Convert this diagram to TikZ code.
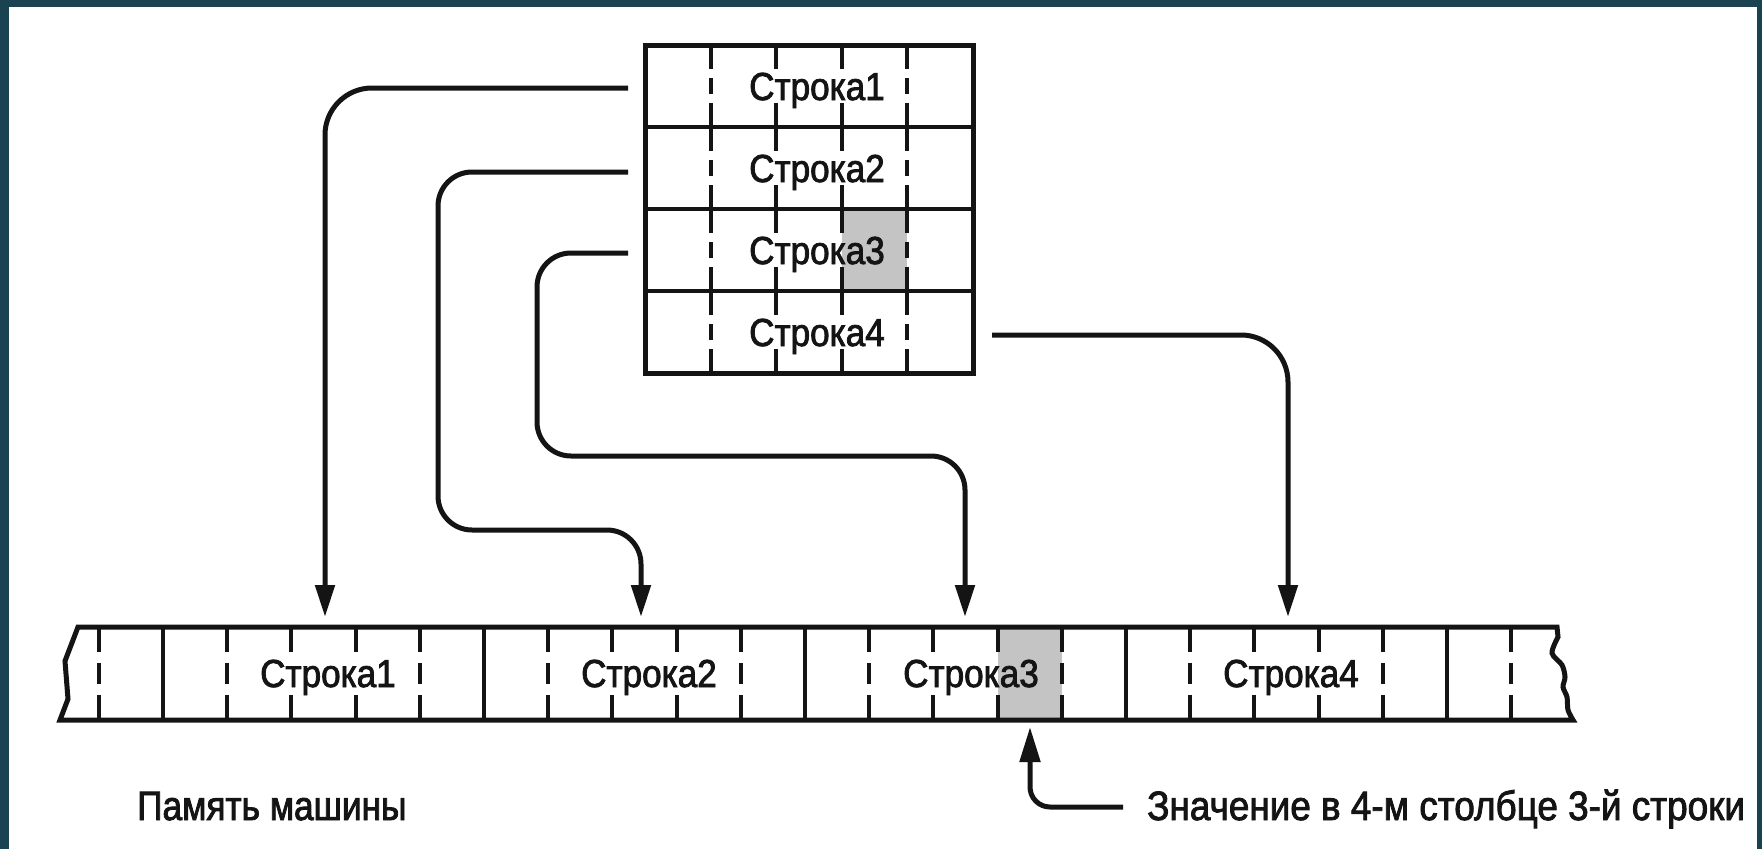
\documentclass[tikz,border=0pt]{standalone}
\usepackage{fontspec}
\setmainfont{Liberation Sans}[FakeStretch=0.9,FakeBold=2]
\newfontfamily\narrowfont{Liberation Sans}[FakeStretch=0.86,FakeBold=2]
\usetikzlibrary{arrows.meta}
\definecolor{frame}{RGB}{27,66,80}
\definecolor{ink}{RGB}{20,20,20}
\definecolor{cellgray}{RGB}{196,196,196}
\begin{document}
\begin{tikzpicture}[x=1pt,y=-1pt,
  solidline/.style={ink,line width=4.5pt},
  tabdashA/.style={ink,line width=4pt,dash pattern=on 24pt off 9pt on 16pt off 9pt on 24pt off 200pt},
  tabdashB/.style={ink,line width=4pt,dash pattern=on 24pt off 34pt on 24pt off 200pt},
  strdashA/.style={ink,line width=4pt,dash pattern=on 25pt off 11pt on 21pt off 11pt on 25pt off 200pt},
  strdashB/.style={ink,line width=4pt,dash pattern=on 25pt off 43pt on 25pt off 200pt},
  outline/.style={ink,line width=5pt,line join=miter},
  arr/.style={ink,line width=5pt,-{Triangle[length=32pt,width=19pt]}},
  lbl/.style={inner sep=0pt,font=\fontsize{39}{44}\selectfont,text=ink},
  captxt/.style={inner sep=0pt,font=\fontsize{41}{46}\selectfont,text=ink}
]
\useasboundingbox (0,0) rectangle (1762,849);
\fill[white] (0,0) rectangle (1762,849);
% frame bands
\fill[frame] (0,0) rectangle (9,849);
\fill[frame] (0,0) rectangle (1762,7);
\fill[frame] (1757,0) rectangle (1762,849);

% ---------- top table ----------
\fill[cellgray] (841.8,209) rectangle (907.4,291);
\foreach \i in {0,...,3}{
  \pgfmathsetmacro\ya{45+82*\i}
  \pgfmathsetmacro\yb{\ya+82}
  \draw[tabdashA] (710.6,\ya) -- (710.6,\yb);
  \draw[tabdashA] (907.4,\ya) -- (907.4,\yb);
  \draw[tabdashB] (776.2,\ya) -- (776.2,\yb);
  \draw[tabdashB] (841.8,\ya) -- (841.8,\yb);
}
\foreach \y in {127,209,291}{
  \draw[solidline] (645,\y) -- (973,\y);
}
\draw[outline] (645,45) rectangle (973,373);

\node[lbl,anchor=base] (t1) at (817,100) {Строка1};
\node[lbl,anchor=base] (t2) at (817,182) {Строка2};
\node[lbl,anchor=base] (t3) at (817,264) {Строка3};
\node[lbl,anchor=base] (t4) at (817,346) {Строка4};

% ---------- memory strip ----------
\fill[cellgray] (997.6,627) rectangle (1061.8,720);
\foreach \k in {0,...,3}{
  \pgfmathsetmacro\xa{163+321*\k}
  \draw[solidline] (\xa,627) -- (\xa,720);
  \draw[strdashA] (\xa+64.2,627) -- (\xa+64.2,720);
  \draw[strdashB] (\xa+128.4,627) -- (\xa+128.4,720);
  \draw[strdashB] (\xa+192.6,627) -- (\xa+192.6,720);
  \draw[strdashA] (\xa+256.8,627) -- (\xa+256.8,720);
}
\draw[solidline] (1447,627) -- (1447,720);
\draw[strdashA] (98.8,627) -- (98.8,720);
\draw[strdashA] (1511.2,627) -- (1511.2,720);
\draw[outline] (60,720) -- (68,699) -- (65,661) -- (78,627) -- (1557,627)
  -- plot[smooth] coordinates {(1558,637) (1552,653) (1562,665) (1565,677) (1563,687) (1567,697) (1568,710) (1573,720)}
  -- cycle;

\node[lbl,anchor=base] (s1) at (328,687) {Строка1};
\node[lbl,anchor=base] (s2) at (649,687) {Строка2};
\node[lbl,anchor=base] (s3) at (971,687) {Строка3};
\node[lbl,anchor=base] (s4) at (1291,687) {Строка4};

% ---------- connectors ----------
\coordinate (r1s) at (628,88);
\coordinate (r2s) at (628,172);
\coordinate (r3s) at (628,253);
\coordinate (r4s) at (992,335);
\coordinate (b2) at (438,530);
\coordinate (b3) at (537,456);
\coordinate (m1) at (325,617);
\coordinate (m2) at (641,617);
\coordinate (m3) at (965,617);
\coordinate (m4) at (1288,617);
\draw[arr,rounded corners=47pt] (r1s) -| (m1);
\draw[arr,rounded corners=34pt] (r2s) -| (b2) -| (m2);
\draw[arr,rounded corners=34pt] (r3s) -| (b3) -| (m3);
\draw[arr,rounded corners=47pt] (r4s) -| (m4);

% ---------- captions ----------
\node[captxt,anchor=base west,font=\narrowfont\fontsize{41}{46}\selectfont] (mem) at (137,820) {Память машины};
\node[captxt,anchor=base west] (val) at (1147,820) {Значение в 4-м столбце 3-й строки};
\coordinate (p0) at (1123,807);
\coordinate (pt) at (1030,727);
\draw[ink,line width=5pt,-{Triangle[length=35pt,width=20pt]},rounded corners=20pt] (p0) -| (pt);
\end{tikzpicture}
\end{document}
